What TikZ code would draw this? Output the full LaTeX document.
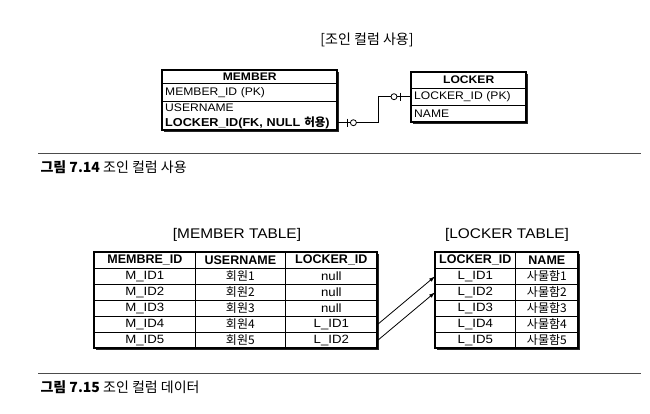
\documentclass[tikz,border=0pt]{standalone}
\usepackage{fontspec}
\setmainfont[FakeStretch=1.1]{Liberation Sans}
\newfontfamily\tabfont{Liberation Sans}
\newfontfamily\kr{Noto Sans CJK KR}
\usetikzlibrary{arrows.meta,calc}
\tikzset{
  frame/.style={draw=black,line width=1.1pt},
  shadowbox/.style={fill=black!85},
  hdr/.style={font=\fontsize{11}{12}\selectfont\bfseries},
  thdr/.style={font=\tabfont\fontsize{12.5}{13}\selectfont\bfseries},
  ctxt/.style={font=\fontsize{12}{13}\selectfont},
  ktxt/.style={font=\kr\fontsize{12}{13}\selectfont},
  cell/.style={draw=black,line width=0.7pt,inner sep=0pt,anchor=north west},
  erow/.style={inner xsep=3pt,inner ysep=0pt,align=left,anchor=north west,font=\fontsize{11}{12}\selectfont},
  ttl/.style={font=\fontsize{14}{16}\selectfont},
  captxt/.style={anchor=west,font=\kr\fontsize{14}{15}\selectfont},
  hrule/.style={draw=black!70,line width=0.6pt},
  link/.style={draw=black,line width=0.8pt},
  refarrow/.style={draw=black,line width=0.8pt,-{Latex[length=6pt,width=4pt]}},
}
\begin{document}
\begin{tikzpicture}[x=1pt,y=-1pt]
\useasboundingbox (0,0) rectangle (650,414);

% ---------- Figure 7.14 ----------
\node[ttl] (t1) at (367,40) {{\kr [조인 컬럼 사용]}};

% MEMBER entity
\fill[shadowbox] (164,72) rectangle (339,132);
\fill[white] (162,70) rectangle (337,130);
\node[erow,minimum width=175pt,minimum height=13pt,align=center,inner xsep=0pt,hdr] (mh) at (162,70) {MEMBER};
\node[erow,minimum width=175pt,minimum height=18pt,text width=169pt] (mid) at (162,83) {MEMBER\_ID (PK)};
\node[erow,minimum width=175pt,minimum height=14pt,text width=169pt] (mun) at (162,101) {USERNAME};
\node[erow,minimum width=175pt,minimum height=15pt,text width=169pt,font=\fontsize{11.5}{12}\selectfont\bfseries] (mlk) at (162,115) {LOCKER\_ID(FK, NULL {\kr\bfseries 허용})};
\draw[frame] (162,70) rectangle (337,130);
\draw[line width=0.7pt] (mh.south west) -- (mh.south east);
\draw[line width=0.7pt] (mid.south west) -- (mid.south east);

% LOCKER entity
\fill[shadowbox] (413,74) rectangle (528,124);
\fill[white] (411,72) rectangle (526,122);
\node[erow,minimum width=115pt,minimum height=16pt,align=center,inner xsep=0pt,hdr] (lh) at (411,72) {LOCKER};
\node[erow,minimum width=115pt,minimum height=17pt,text width=109pt] (llk) at (411,88) {LOCKER\_ID (PK)};
\node[erow,minimum width=115pt,minimum height=17pt,text width=109pt] (lnm) at (411,105) {NAME};
\draw[frame] (411,72) rectangle (526,122);
\draw[line width=0.7pt] (lh.south west) -- (lh.south east);
\draw[line width=0.7pt] (llk.south west) -- (llk.south east);

% relationship connector
\coordinate (bend) at ($(mlk.east)+(41,0)$);
\draw[link] (mlk.east) -- (bend) |- (llk.west);
\draw[link] ($(mlk.east)+(10,-4)$) -- ($(mlk.east)+(10,4)$);
\draw[link,fill=white] ($(mlk.east)+(16,0)$) circle (3pt);
\draw[link] ($(llk.west)+(-11,-4)$) -- ($(llk.west)+(-11,4)$);
\draw[link,fill=white] ($(llk.west)+(-17,0)$) circle (3pt);

\draw[hrule] (38,153) -- (641,153);
\node[captxt] (c1) at (37,167) {{\bfseries 그림 7.14} 조인 컬럼 사용};

% ---------- Figure 7.15 ----------
\node[ttl] (t2) at (237,235) {[MEMBER TABLE]};
\node[ttl] (t3) at (507,235) {[LOCKER TABLE]};

% MEMBER TABLE
\fill[shadowbox] (96,254) rectangle (379,350);
\fill[white] (94,252) rectangle (377,348);
\foreach \c/\x/\w in {1/94/101,2/195/90,3/285/92}{
  \foreach \r in {0,...,5}{
    \node[cell,minimum width=\w pt,minimum height=16pt] (m\r\c) at (\x,252+16*\r) {};
  }
}
\node[thdr] at (m01) {MEMBRE\_ID};
\node[thdr] at (m02) {USERNAME};
\node[thdr] at (m03) {LOCKER\_ID};
\foreach \r in {1,...,5}{
  \node[ctxt] at (m\r1) {M\_ID\r};
  \node[ktxt] at (m\r2) {회원\r};
}
\node[ctxt] at (m13) {null};
\node[ctxt] at (m23) {null};
\node[ctxt] at (m33) {null};
\node[ctxt] at (m43) {L\_ID1};
\node[ctxt] at (m53) {L\_ID2};
\draw[frame] (94,252) rectangle (377,348);

% LOCKER TABLE
\fill[shadowbox] (437,254) rectangle (580,350);
\fill[white] (435,252) rectangle (578,348);
\foreach \c/\x/\w in {1/435/80,2/515/63}{
  \foreach \r in {0,...,5}{
    \node[cell,minimum width=\w pt,minimum height=16pt] (l\r\c) at (\x,252+16*\r) {};
  }
}
\node[thdr] at (l01) {LOCKER\_ID};
\node[thdr] at (l02) {NAME};
\foreach \r in {1,...,5}{
  \node[ctxt] at (l\r1) {L\_ID\r};
  \node[ktxt] at (l\r2) {사물함\r};
}
\draw[frame] (435,252) rectangle (578,348);

% references
\draw[refarrow] (m43.east) -- (l11.west);
\draw[refarrow] (m53.east) -- (l21.west);

\draw[hrule] (38,373) -- (641,373);
\node[captxt] (c2) at (37,387) {{\bfseries 그림 7.15} 조인 컬럼 데이터};
\end{tikzpicture}
\end{document}
